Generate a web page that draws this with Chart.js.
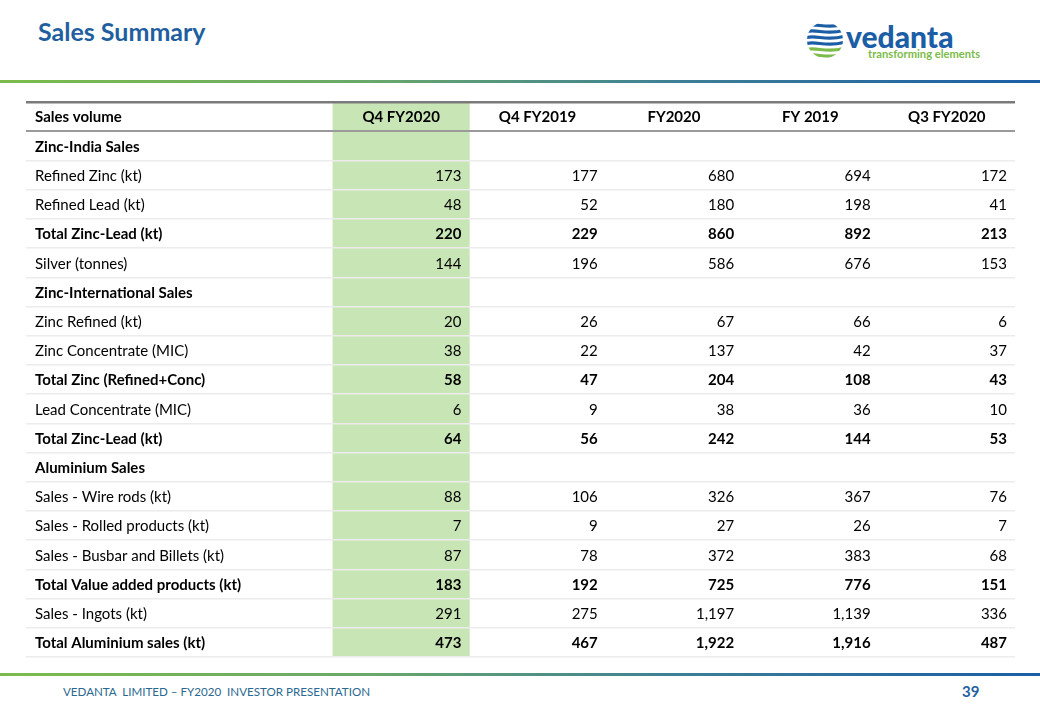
<!DOCTYPE html>
<html>
<head>
<meta charset="utf-8">
<script src="https://cdn.jsdelivr.net/npm/chart.js@4.4.1/dist/chart.umd.min.js"></script>
<style>
  html, body { margin: 0; padding: 0; background: #fff; }
  body { width: 1040px; height: 720px; position: relative; overflow: hidden; font-family: Lato, "Open Sans", sans-serif; }
  .title { position: absolute; left: 38px; top: 16px; font-size: 25px; font-weight: 700; color: #1f5fa0; }
  .rule { position: absolute; left: 0; width: 1040px; height: 3px;
          background: linear-gradient(to right, #7cbb4a 0%, #6aa86a 35%, #3d7f95 65%, #1b5ea6 100%); }
  .logo { position: absolute; left: 805px; top: 19px; }
  .footer { position: absolute; left: 63px; top: 685px; font-size: 11.6px; color: #2a6890; white-space: pre; }
  .page { position: absolute; left: 962px; top: 682px; font-size: 15px; font-weight: 700; color: #1f5fa0; }
  .wrap { position: absolute; left: 26px; top: 100px; width: 989px; height: 559px; }
</style>
</head>
<body>
<div class="title">Sales Summary</div>
<svg class="logo" width="185" height="44" viewBox="0 0 185 44">
  <defs><clipPath id="ball"><circle cx="20" cy="21" r="18"/></clipPath></defs>
  <g clip-path="url(#ball)" fill="none" stroke-width="3.2" stroke-linecap="round">
    <path d="M0,7 C10,3 22,11 40,5" stroke="#1b5ea6"/>
    <path d="M0,13 C10,9 22,17 40,11" stroke="#1b5ea6"/>
    <path d="M0,19 C10,15 22,23 40,17" stroke="#1b5ea6"/>
    <path d="M0,25 C10,21 22,29 40,23" stroke="#1b5ea6"/>
    <path d="M0,31 C10,27 22,35 40,29" stroke="#7cbb4a"/>
    <path d="M0,37 C10,33 22,41 40,35" stroke="#7cbb4a"/>
  </g>
  <text x="41" y="29" font-family="Lato, sans-serif" font-weight="900" font-size="30" fill="#1b5ea6">vedanta</text>
  <text x="63" y="39" font-family="Lato, sans-serif" font-weight="700" font-size="11.2" fill="#7cbb4a">transforming elements</text>
</svg>
<div class="rule" style="top:80px"></div>

<div class="wrap"><canvas id="tbl"></canvas></div>

<div class="rule" style="top:673px"></div>
<div class="footer">VEDANTA  LIMITED – FY2020  INVESTOR PRESENTATION</div>
<div class="page">39</div>

<script>
// table data
const headLabel = 'Sales volume';
const columns = ['Q4 FY2020', 'Q4 FY2019', 'FY2020', 'FY 2019', 'Q3 FY2020'];
const rowLabels = [
  'Zinc-India Sales', 'Refined Zinc (kt)', 'Refined Lead (kt)', 'Total Zinc-Lead (kt)', 'Silver (tonnes)',
  'Zinc-International Sales', 'Zinc Refined (kt)', 'Zinc Concentrate (MIC)', 'Total Zinc (Refined+Conc)',
  'Lead Concentrate (MIC)', 'Total Zinc-Lead (kt)',
  'Aluminium Sales', 'Sales - Wire rods (kt)', 'Sales - Rolled products (kt)', 'Sales - Busbar and Billets (kt)',
  'Total Value added products (kt)', 'Sales - Ingots (kt)', 'Total Aluminium sales (kt)'
];
const boldRows = [0, 3, 5, 8, 10, 11, 15, 17];
const q4fy2020 = [null, 173, 48, 220, 144, null, 20, 38, 58, 6, 64, null, 88, 7, 87, 183, 291, 473];
const q4fy2019 = [null, 177, 52, 229, 196, null, 26, 22, 47, 9, 56, null, 106, 9, 78, 192, 275, 467];
const fy2020   = [null, 680, 180, 860, 586, null, 67, 137, 204, 38, 242, null, 326, 27, 372, 725, 1197, 1922];
const fy2019   = [null, 694, 198, 892, 676, null, 66, 42, 108, 36, 144, null, 367, 26, 383, 776, 1139, 1916];
const q3fy2020 = [null, 172, 41, 213, 153, null, 6, 37, 43, 10, 53, null, 76, 7, 68, 151, 336, 487];
const series = [q4fy2020, q4fy2019, fy2020, fy2019, q3fy2020];
const highlightCol = 0;

// layout in x-scale units: first column is wider, each value column is 1 unit
const LABEL_W = 2.25;
const FONT = 'Lato, "Open Sans", sans-serif';

const yLabels = [headLabel, ...rowLabels];
const colStart = c => LABEL_W + c;

const cellText = {
  id: 'cellText',
  afterDraw(chart) {
    const { ctx, scales: { x, y } } = chart;
    ctx.save();
    ctx.fillStyle = '#000';
    ctx.textBaseline = 'middle';
    yLabels.forEach((lab, i) => {
      const py = y.getPixelForValue(i) + 1;
      const bold = i === 0 || boldRows.includes(i - 1);
      ctx.font = (bold ? '700 ' : '400 ') + '15px ' + FONT;
      ctx.textAlign = 'left';
      ctx.fillText(lab, x.getPixelForValue(0) + 9, py);
      columns.forEach((col, c) => {
        if (i === 0) {
          ctx.textAlign = 'center';
          ctx.fillText(col, x.getPixelForValue(colStart(c) + 0.5), py);
        } else {
          const v = series[c][i - 1];
          if (v == null) return;
          ctx.textAlign = 'right';
          ctx.fillText(v.toLocaleString('en-US'), x.getPixelForValue(colStart(c) + 1) - 8, py);
        }
      });
    });
    ctx.restore();
  }
};

new Chart(document.getElementById('tbl'), {
  type: 'bar',
  data: {
    labels: yLabels,
    datasets: [{
      data: yLabels.map(() => [colStart(highlightCol), colStart(highlightCol) + 1]),
      backgroundColor: '#c8e6b5',
      borderWidth: 0,
      barPercentage: 1,
      categoryPercentage: 1
    }]
  },
  options: {
    indexAxis: 'y',
    responsive: true,
    maintainAspectRatio: false,
    animation: false,
    layout: { padding: { top: 2, bottom: 2, left: 0, right: 0 } },
    plugins: { legend: { display: false }, tooltip: { enabled: false } },
    scales: {
      x: { type: 'linear', min: 0, max: LABEL_W + columns.length, display: false },
      y: {
        type: 'category',
        offset: true,
        ticks: { display: false },
        border: { display: false },
        grid: {
          offset: true,
          drawTicks: false,
          z: 1,
          color: c => c.index === 0 ? '#7a7a7a' : c.index === 1 ? '#9a9a9a' : '#ececec',
          lineWidth: c => c.index === 0 ? 2.5 : c.index === 1 ? 2 : 1.5
        }
      }
    }
  },
  plugins: [cellText]
});
</script>
</body>
</html>
